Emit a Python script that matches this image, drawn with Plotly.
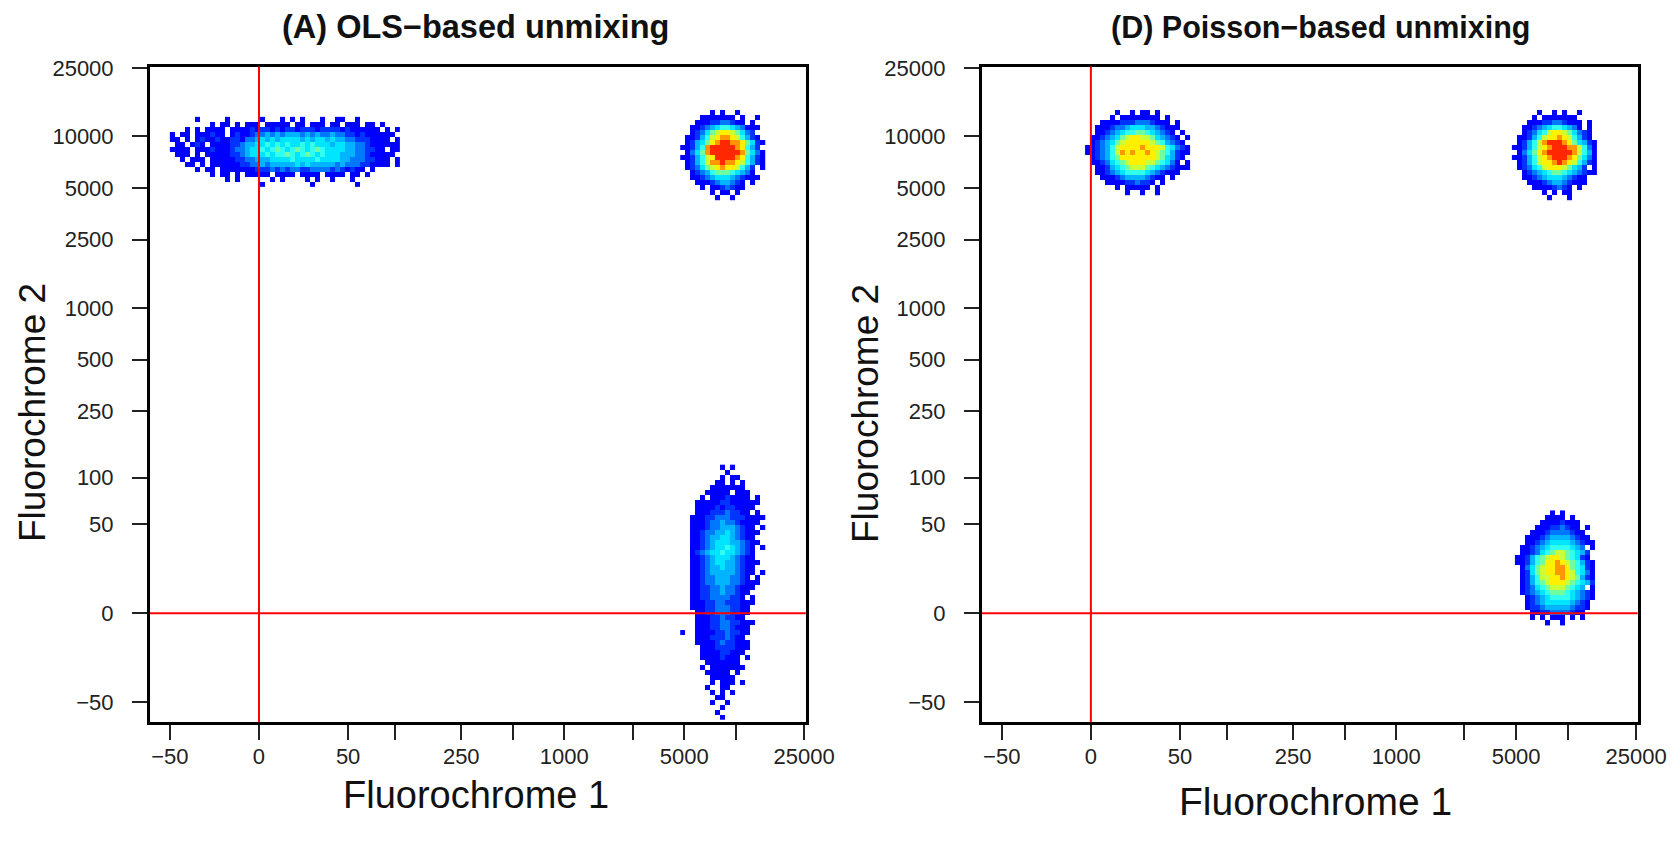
import numpy as np
import plotly.graph_objects as go

# ---------------- data ----------------
COFACTOR = 33.3                      # arcsinh cofactor of both axes
TICK_VALUES = [-50, 0, 50, 100, 250, 500, 1000, 2500, 5000, 10000, 25000]
Y_TICK_LABELS = ["\u221250", "0", "50", "100", "250", "500", "1000", "2500", "5000", "10000", "25000"]
X_TICK_LABELS = ["\u221250", "0", "50", "", "250", "", "1000", "", "5000", "", "25000"]
AXIS_LIMITS = [-68, 25550]           # data limits of both axes (before transform)

PANEL_TITLES = ["(A) OLS\u2212based unmixing", "(D) Poisson\u2212based unmixing"]
X_TITLE = "Fluorochrome 1"
Y_TITLE = "Fluorochrome 2"

# density grids: '.' = no events, 1..9,a,b = rising density
LEVEL_CHARS = "123456789ab"
LEVEL_COLORS = ["#0000FF", "#0033FF", "#0077FF", "#00B4FF", "#00E5FF", "#30FFF0",
                "#70FFA0", "#C8FF38", "#FFF000", "#FF9800", "#FF2800"]

# ---- panel A (OLS) ----
A1_X_LEFT, A1_Y_TOP = -50, 13000
A1_ROWS = [
    ".....1.....1......1...1.1.1...1..11..1........",
    "........1.11.1.111.11111.11.111.11.111.11.1...",
    "...1.1.1111.111121221212212221222212111111.1.1",
    "1.11.111211.121123343434443434334332212111111.",
    "11.1.121121122133454545555454554544332221111.1",
    ".11.121.11112234455656565565655545544332111111",
    "1111.11121112334556567656765676555544332211.11",
    ".111.1.11111223455565667656765655544433211111.",
    "..1.111.111112233444555565555655554433322111.1",
    "...11.1.111111223343444445454444434333221111.1",
    ".....1.11.11111112223232332233332321211.1.....",
    "........1.11.1.11111.1111.1111.1111.11.1......",
    "...........1.1......1.1....1.1..1...1.........",
    "..................1.........1........1........",
]
A2_X_LEFT, A2_Y_TOP = 4740, 15200
A2_ROWS = [
    ".................",
    "......1.1..1.....",
    "....1111111.1..1.",
    "...1112233211.1..",
    "..11234566543111.",
    "..1235789987532..",
    ".1124689aa986421.",
    ".124579abbaa97521",
    "11246abbbbba9642.",
    ".1357abbbbbba7531",
    "1124689bbbba96421",
    ".12468aabaa986421",
    ".1235789a998642.1",
    "..1234677765431..",
    "..11234555432111.",
    "...1112344321.1..",
    "....1.1123211....",
    "......1.11.1.....",
    ".......1..1......",
]
A3_X_LEFT, A3_Y_TOP = 4740, 120
A3_ROWS = [
    "........1.1......",
    ".........1.......",
    "........1.11.....",
    ".......11.1.1....",
    "......1111111....",
    ".....11111.111...",
    "....1.11121111.1.",
    "...1111122111111.",
    "...111121221111..",
    "...11122232211.1.",
    "..111223332221111",
    "..11123343321111.",
    "..1112334443211.1",
    "..11233445432111.",
    "..1123445543211..",
    "..11234555443211.",
    "..1123455654321.1",
    "..1234556554321..",
    "..1123455543211..",
    "..11234554432111.",
    "..1123445443211..",
    "..1123444443211.1",
    "..112334443321.1.",
    "..11233444332111.",
    "..1122334332111..",
    "..112233433211...",
    "..11223333221.1..",
    "..1112233222111..",
    "..111223332211...",
    "...11223332211...",
    "...1112232211....",
    "...111223322111..",
    "...11122332111...",
    "1..11112232211...",
    "...1112223211....",
    "...11112322111...",
    "....1112222111...",
    "....111122111....",
    "....11112111.1...",
    ".....1111111.....",
    "....1.1111111....",
    ".....11111.1.....",
    "......11111......",
    "......1.111.1....",
    ".....1..11.......",
    "......1.1.1......",
    ".......11........",
    "......1..1.......",
    "........1........",
    ".......1.........",
    "........1........",
]

# ---- panel D (Poisson) ----
D1_X_LEFT, D1_Y_TOP = -2.6, 15200
D1_ROWS = [
    ".....................",
    "......1..1.11.1......",
    ".....1.11111111.1....",
    "...11112223332111.1..",
    "..11123345554432111..",
    "..1123456677654321.1.",
    ".112345789988754321.1",
    ".1234578999998764321.",
    "11234689999a999865321",
    "1123468a9a99a98764211",
    ".1234679999999875421.",
    ".112356789998876531.1",
    "..1124567888765432111",
    "..11234566665432111..",
    "...1112344443211.1...",
    "....1111223221.1.....",
    "......1.11111.1......",
    "........1..1..1......",
]
D2_X_LEFT, D2_Y_TOP = 4725, 15200
D2_ROWS = [
    ".................",
    ".....1..1.1..1...",
    "....1.1111111....",
    "...11122332111.1.",
    "..112345665431.1.",
    "..12356899875321.",
    ".11246899a986421.",
    ".12468abbba975421",
    "1124689abbbaa8631",
    ".13579abbbbba8641",
    "1124689abbba97531",
    ".1246899aba986421",
    ".12356899987542.1",
    "..123456776543211",
    "..1123455543211..",
    "...111234432111..",
    "....11112321.1...",
    "......1.1.11.....",
    ".......1...1.....",
]
D3_X_LEFT, D3_Y_TOP = 4923, 62
D3_ROWS = [
    ".......1.1......",
    "......1111.1....",
    ".....11112111...",
    "....111223211.1.",
    "...11123333211..",
    "..1112344443211.",
    "..11234555543211",
    ".1123456666543.1",
    ".11235678876542.",
    "112467899876521.",
    "11246799a9876421",
    ".1357899aa976521",
    ".1257899aa986531",
    ".12468899a987421",
    ".124678999876542",
    ".1235678887654.1",
    ".123456777654321",
    "..12345666654321",
    "..1234555554321.",
    "..1223444443221.",
    "...11223333211..",
    "...1.1.111.1.1..",
    "......1..1......",
]

PANELS = [
    [(A1_X_LEFT, A1_Y_TOP, A1_ROWS), (A2_X_LEFT, A2_Y_TOP, A2_ROWS), (A3_X_LEFT, A3_Y_TOP, A3_ROWS)],
    [(D1_X_LEFT, D1_Y_TOP, D1_ROWS), (D2_X_LEFT, D2_Y_TOP, D2_ROWS), (D3_X_LEFT, D3_Y_TOP, D3_ROWS)],
]

# ---------------- figure ----------------
W, H = 1680, 853
CELL = 0.0671                         # bin width in transformed units


def tr(v):
    return np.arcsinh(np.asarray(v, dtype=float) / COFACTOR)


n = len(LEVEL_COLORS)
colorscale = []
for i, c in enumerate(LEVEL_COLORS):
    colorscale.append([i / n, c])
    colorscale.append([(i + 1) / n, c])

fig = go.Figure()
for p, clusters in enumerate(PANELS):
    xa = "x" if p == 0 else "x2"
    ya = "y" if p == 0 else "y2"
    for x_left, y_top, rows in clusters:
        w = max(len(r) for r in rows)
        grid = [r.ljust(w, ".") for r in rows]
        ux = tr(x_left) + CELL * (np.arange(w) + 0.5)
        uy = tr(y_top) - CELL * (np.arange(len(grid)) + 0.5)
        z = [[(LEVEL_CHARS.index(ch) + 1) if ch in LEVEL_CHARS else None for ch in r] for r in grid]
        fig.add_trace(go.Heatmap(
            x=ux, y=uy[::-1], z=z[::-1], colorscale=colorscale, zmin=0.5, zmax=n + 0.5,
            showscale=False, hoverinfo="skip", xaxis=xa, yaxis=ya, zsmooth=False))

rng = list(tr(AXIS_LIMITS))
FONT = "Liberation Sans, Arial, Helvetica, sans-serif"
box_l = [150, 981.9]
box_w = 655.8
box_top, box_bot = 66.5, 722.3

common = dict(range=rng, showgrid=False, zeroline=False, showline=True, mirror=True,
              linecolor="black", linewidth=3, ticks="outside", ticklen=15, tickwidth=2,
              tickcolor="#222", tickfont=dict(size=22, color="#222", family=FONT),
              tickvals=list(tr(TICK_VALUES)), fixedrange=True, automargin=False)

title_size = [32.5, 30.5]
title_cx = [475, 1320]
xt_size = [38, 39]
xt_cx = [476, 1315]
xt_cy = [795, 801]
yt_cx = [32, 865]

for p in range(2):
    sx = "" if p == 0 else "2"
    fig.update_layout(**{
        "xaxis" + sx: dict(common, domain=[box_l[p] / W, (box_l[p] + box_w) / W],
                            ticktext=X_TICK_LABELS, anchor="y" + sx, ticklabelstandoff=-3),
        "yaxis" + sx: dict(common, domain=[1 - box_bot / H, 1 - box_top / H],
                            ticktext=Y_TICK_LABELS, anchor="x" + sx, ticklabelstandoff=14),
    })
    fig.add_shape(type="line", xref="x" + sx, yref="y" + sx + " domain", x0=0, x1=0, y0=0, y1=1,
                  line=dict(color="#FF0000", width=2), layer="above")
    fig.add_shape(type="line", xref="x" + sx + " domain", yref="y" + sx, x0=0, x1=1, y0=0, y1=0,
                  line=dict(color="#FF0000", width=2), layer="above")
    fig.add_annotation(text="<b>" + PANEL_TITLES[p] + "</b>", xref="paper", yref="paper",
                       x=title_cx[p] / W, y=1 - 27 / H, showarrow=False, xanchor="center",
                       yanchor="middle", font=dict(size=title_size[p], color="#111", family=FONT))
    fig.add_annotation(text=X_TITLE, xref="paper", yref="paper",
                       x=xt_cx[p] / W, y=1 - xt_cy[p] / H, showarrow=False, xanchor="center",
                       yanchor="middle", font=dict(size=xt_size[p], color="#111", family=FONT))
    fig.add_annotation(text=Y_TITLE, xref="paper", yref="paper", textangle=-90,
                       x=yt_cx[p] / W, y=1 - 413 / H, showarrow=False, xanchor="center",
                       yanchor="middle", font=dict(size=37, color="#111", family=FONT))

fig.update_layout(width=W, height=H, autosize=False, margin=dict(l=0, r=0, t=0, b=0, pad=0),
                  paper_bgcolor="white", plot_bgcolor="white", showlegend=False,
                  font=dict(family=FONT))
fig.write_html("out.html")
